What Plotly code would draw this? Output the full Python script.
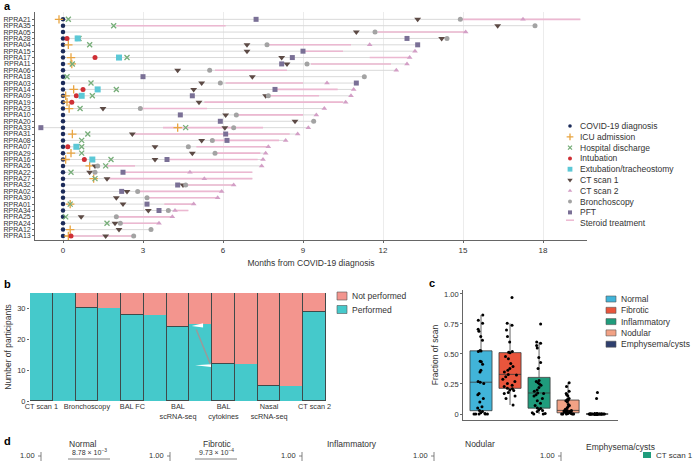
import plotly.graph_objects as go

W, H = 696, 461
FONT = "Liberation Sans, Arial, sans-serif"
INK = "#333333"
AXIS = "#666666"

# ---------------- panel a: patient timelines (months from COVID-19 diagnosis) ----------------
patients = ["RPRA21", "RPRA35", "RPRA05", "RPRA28", "RPRA04", "RPRA15", "RPRA17", "RPRA11",
            "RPRA06", "RPRA18", "RPRA03", "RPRA14", "RPRA09", "RPRA19", "RPRA23", "RPRA10",
            "RPRA20", "RPRA33", "RPRA31", "RPRA08", "RPRA07", "RPRA29", "RPRA16", "RPRA26",
            "RPRA22", "RPRA27", "RPRA32", "RPRA02", "RPRA30", "RPRA01", "RPRA34", "RPRA25",
            "RPRA24", "RPRA12", "RPRA13"]
covid_dx = [0, 0, 0, 0, 0, 0, 0, 0, 0, 0, 0, 0, 0, 0, 0, 0, 0, 0,
            0, 0, 0, 0, 0, 0, 0, 0, 0, 0, 0, 0, 0, 0, 0, 0, 0]
icu = [-0.15, None, None, None, 0.2, None, 0.3, 0.33, None, None, None, 0.4, 0.1, 0.15,
       0.23, None, None, 4.3, 0.35, None, None, 0.3, 0.1, 1.0, None, 1.15, None, None,
       None, 0.27, None, None, None, 0.27, 0.2]
discharge = [0.2, 1.9, None, 0.6, 1.0, None, 2.4, 0.35, None, 0.15, 1.05, 2.0, 1.1, None,
             0.64, None, None, 4.6, 0.93, 0.7, 0.7, 0.7, 1.8, 1.6, 0.3, 1.2, None, None,
             None, 0.27, None, 0.1, 1.65, None, None]
intubation = [None, None, None, 0.15, None, None, 1.2, None, None, None, None, 0.75, 0.5,
              0.33, None, None, None, None, None, None, 0.18, None, 0.8, None, None, None,
              None, None, None, None, None, None, None, None, 0.3]
extubation = [None, None, None, 0.55, None, None, 2.1, None, None, None, None, 1.3, 0.7,
              None, None, None, None, None, None, None, 0.5, None, 1.1, None, None, None,
              None, None, None, None, None, None, None, None, None]
ct_scan1 = [13.3, 16.3, 11.0, 14.2, 6.9, 6.9, 8.2, 8.4, 4.3, 7.1, 5.2, 4.9, 7.6, 5.1, 1.5,
            6.1, 8.7, 6.07, 2.6, 5.2, 3.45, 4.85, 3.45, 1.2, 1.0, 1.65, 4.5, 2.4, 2.0, 2.25,
            3.2, 0.68, 1.95, 2.1, 1.6]
ct_scan2 = [17.25, None, 15.1, None, 11.5, 13.2, 13.0, 12.9, 12.5, None, 9.9, 10.9, 10.8,
            10.6, 9.8, 9.5, None, 9.2, 8.8, 8.35, 7.7, 7.6, 7.5, 7.45, 4.76, 5.3, 6.4, 5.95,
            5.8, 4.9, 4.2, 4.1, 3.6, None, None]
bronchoscopy = [14.9, 17.7, 11.7, 14.4, 7.65, None, None, 9.15, 5.5, 11.3, 5.9, None, 7.7,
                None, 2.9, 6.5, 9.4, 6.4, None, 5.6, 4.7, 5.7, None, 1.3, 1.2, None, 4.6,
                2.8, 3.15, None, 3.95, 2.0, 2.15, 3.3, 2.65]
pft = [7.24, None, None, 12.9, 13.3, 9.0, 8.6, 8.2, None, 3.0, 11.0, 7.95, 4.85, None, None,
       4.4, 5.9, -0.83, 6.1, 6.15, None, None, 3.9, None, 2.25, None, 4.3, 2.2, None, 3.15,
       3.6, None, None, None, None]
steroid_start = [14.9, 2.0, 11.8, None, 7.65, 9.0, 11.5, 9.3, 5.7, None, 6.1, 7.95, 7.7, 5.3,
                 2.9, 6.5, None, 3.75, 2.6, 5.6, 5.0, 5.7, 3.9, 1.6, 2.25, 1.65, 4.6, 2.8,
                 3.15, 3.8, 4.2, 2.0, 2.2, None, 0.3]
steroid_end = [19.4, 6.1, 15.1, None, 10.8, 10.5, 13.0, 12.3, 8.4, None, 9.0, 10.3, 9.6, 10.5,
               5.4, 9.0, None, 7.5, 8.5, 8.1, 7.7, 7.4, 7.3, 2.7, 7.1, 7.1, 6.4, 5.95,
               5.8, 4.9, 4.7, 4.1, 3.6, None, 2.6]

# ---------------- panel b: samples collected ----------------
b_steps = ["CT scan 1", "Bronchoscopy", "BAL FC", "BAL<br>scRNA-seq", "BAL<br>cytokines",
           "Nasal<br>scRNA-seq", "CT scan 2"]
b_performed = [35, 30, 28, 24, 12, 5, 29]
b_flow = [35, 30, 28, 25, 12, 5]
b_total = 35

# ---------------- panel c: CT scan composition ----------------
c_classes = ["Normal", "Fibrotic", "Inflammatory", "Nodular", "Emphysema/cysts"]
c_normal = [0, 0, 0, 0, 0, 0.005, 0.01, 0.02, 0.03, 0.05, 0.06, 0.10, 0.13, 0.16, 0.17, 0.255,
            0.265, 0.27, 0.35, 0.365, 0.415, 0.435, 0.44, 0.52, 0.525, 0.53, 0.615, 0.645,
            0.69, 0.705, 0.755, 0.78, 0.825]
c_fibrotic = [0.075, 0.13, 0.15, 0.17, 0.18, 0.195, 0.20, 0.21, 0.215, 0.23, 0.24, 0.255, 0.27,
              0.29, 0.31, 0.325, 0.33, 0.35, 0.365, 0.38, 0.395, 0.42, 0.46, 0.48, 0.51, 0.515,
              0.52, 0.60, 0.645, 0.70, 0.74, 0.755, 0.97]
c_inflammatory = [0, 0, 0.005, 0.01, 0.02, 0.03, 0.035, 0.045, 0.05, 0.07, 0.09, 0.11, 0.13,
                  0.15, 0.16, 0.17, 0.175, 0.19, 0.20, 0.22, 0.24, 0.25, 0.26, 0.27, 0.28, 0.38,
                  0.43, 0.47, 0.55, 0.57, 0.59, 0.60, 0.75]
c_nodular = [0, 0, 0, 0, 0, 0.005, 0.005, 0.01, 0.01, 0.015, 0.02, 0.02, 0.025, 0.025, 0.03,
             0.03, 0.03, 0.04, 0.05, 0.06, 0.07, 0.08, 0.10, 0.11, 0.115, 0.12, 0.13, 0.15,
             0.16, 0.17, 0.19, 0.23, 0.26]
c_emphysema = [0, 0, 0, 0, 0, 0, 0, 0, 0, 0, 0, 0, 0, 0, 0, 0, 0, 0, 0, 0, 0, 0, 0, 0, 0, 0,
               0, 0, 0, 0, 0, 0.13, 0.18]

# ---------------- panel d (cropped strip) ----------------
d_classes = ["Normal", "Fibrotic", "Inflammatory", "Nodular", "Emphysema/cysts"]
d_pvalues = ["8.78 × 10<sup>−3</sup>", "9.73 × 10<sup>−4</sup>", None, None, None]
d_top_tick = "1.00"


def px(x):
    return x / W


def py(y):
    return 1 - y / H


fig = go.Figure()
n = len(patients)
event_lists = [covid_dx, icu, discharge, intubation, extubation, ct_scan1, ct_scan2,
               bronchoscopy, pft, steroid_start, steroid_end]

# grey timeline per patient (first to last event)
gx, gy = [], []
for i in range(n):
    vals = [lst[i] for lst in event_lists if lst[i] is not None]
    gx += [min(vals), max(vals), None]
    gy += [i, i, None]
fig.add_trace(go.Scatter(x=gx, y=gy, mode="lines", line=dict(color="#d9d9d9", width=1),
                         hoverinfo="skip", xaxis="x", yaxis="y"))

# steroid treatment
sx, sy = [], []
for i in range(n):
    if steroid_start[i] is not None:
        sx += [steroid_start[i], steroid_end[i], None]
        sy += [i, i, None]
STEROID = "#ecb8d1"
fig.add_trace(go.Scatter(x=sx, y=sy, mode="lines", line=dict(color=STEROID, width=1.6),
                         xaxis="x", yaxis="y"))

event_styles = [
    ("COVID-19 diagnosis", covid_dx, dict(symbol="circle", size=4.5, color="#1c2b5a")),
    ("ICU admission", icu, dict(symbol="cross-thin", size=6, color="#e9a541",
                                line=dict(color="#e9a541", width=1.3))),
    ("Hospital discharge", discharge, dict(symbol="x-thin", size=5, color="#76ad78",
                                           line=dict(color="#76ad78", width=1.3))),
    ("Intubation", intubation, dict(symbol="circle", size=5, color="#cf2f35")),
    ("Extubation/tracheostomy", extubation, dict(symbol="square", size=6, color="#5cc8d6")),
    ("CT scan 1", ct_scan1, dict(symbol="triangle-down", size=6, color="#5c4a45")),
    ("CT scan 2", ct_scan2, dict(symbol="triangle-up", size=5, color="#d39fc6")),
    ("Bronchoscopy", bronchoscopy, dict(symbol="circle", size=5, color="#a3a3a3")),
    ("PFT", pft, dict(symbol="square", size=5, color="#7a7096")),
]
for name, vals, mk in event_styles:
    ex = [v for v in vals if v is not None]
    ey = [i for i, v in enumerate(vals) if v is not None]
    fig.add_trace(go.Scatter(x=ex, y=ey, mode="markers", marker=mk, name=name,
                             xaxis="x", yaxis="y"))

# ---------------- panel b ----------------
TEAL = "#45c9cb"
SALMON = "#f3958e"
bar_pos = [2 * i for i in range(len(b_steps))]
gap_pos = [2 * i + 1 for i in range(len(b_flow))]
fig.add_trace(go.Bar(x=gap_pos, y=b_flow, width=1.0, marker=dict(color=TEAL, line=dict(width=0)),
                     xaxis="x2", yaxis="y2"))
fig.add_trace(go.Bar(x=gap_pos, y=[b_total - v for v in b_flow], width=1.0,
                     marker=dict(color=SALMON, line=dict(width=0)), xaxis="x2", yaxis="y2"))
fig.add_trace(go.Bar(x=bar_pos, y=b_performed, width=1.0,
                     marker=dict(color=TEAL, line=dict(color="#3f4a4a", width=1)),
                     xaxis="x2", yaxis="y2"))
fig.add_trace(go.Bar(x=bar_pos, y=[b_total - v for v in b_performed], width=1.0,
                     marker=dict(color=SALMON, line=dict(color="#3f4a4a", width=1)),
                     xaxis="x2", yaxis="y2"))

# crossing flow between BAL scRNA-seq and BAL cytokines
gl = gap_pos[3] - 0.5
hi, lo = b_performed[3], b_performed[4]
shapes = [
    dict(type="path", xref="x2", yref="y2", line=dict(width=0), fillcolor="white",
         path=f"M {gl + 0.1} {hi + 0.3} L {gl + 0.6} {hi + 1.2} L {gl + 0.6} {hi - 0.2} Z"),
    dict(type="path", xref="x2", yref="y2", line=dict(width=0), fillcolor="white",
         path=f"M {gl + 0.25} {lo - 0.4} L {gl + 0.95} {lo - 0.1} L {gl + 0.95} {lo - 1.0} Z"),
    dict(type="line", xref="x2", yref="y2", x0=gl + 0.3, y0=hi - 0.8, x1=gl + 0.92, y1=lo,
         line=dict(color="#9a9a9a", width=1.5)),
]

# ---------------- panel c ----------------
c_values = [c_normal, c_fibrotic, c_inflammatory, c_nodular, c_emphysema]
c_colors = ["#41b4d9", "#e9553c", "#1f9c7c", "#f2a285", "#2e3f6e"]
for name, vals, col in zip(c_classes, c_values, c_colors):
    fig.add_trace(go.Box(x=[name] * len(vals), y=vals, name=name, xaxis="x3", yaxis="y3",
                         fillcolor=col, line=dict(color="#3a3a3a", width=0.8),
                         marker=dict(color="black", size=3), boxpoints="all", jitter=0.75,
                         pointpos=0, width=0.76, whiskerwidth=0))

# ---------------- custom legends (transparent overlay axis in pixel units) ----------------
LEG_A_X, LEG_A_Y, LEG_A_STEP = 570, 126, 10.8
annotations = []
for k, (name, vals, mk) in enumerate(event_styles):
    m = dict(mk)
    m["size"] = mk["size"] * 0.8
    fig.add_trace(go.Scatter(x=[LEG_A_X], y=[LEG_A_Y + k * LEG_A_STEP], mode="markers",
                             marker=m, xaxis="x5", yaxis="y5", hoverinfo="skip"))
legend_a_names = [e[0] for e in event_styles] + ["Steroid treatment"]
for k, name in enumerate(legend_a_names):
    annotations.append(dict(x=px(LEG_A_X + 8), y=py(LEG_A_Y + k * LEG_A_STEP), xref="paper",
                            yref="paper", text=name, showarrow=False, xanchor="left",
                            yanchor="middle", font=dict(size=8.5, color=INK)))
ys = LEG_A_Y + (len(legend_a_names) - 1) * LEG_A_STEP - 3
shapes.append(dict(type="line", xref="paper", yref="paper", x0=px(566), x1=px(574),
                   y0=py(ys), y1=py(ys), line=dict(color=STEROID, width=1.5)))

# legend b
for k, (name, col) in enumerate([("Not performed", SALMON), ("Performed", TEAL)]):
    yc = 296 + k * 13.5
    shapes.append(dict(type="rect", xref="paper", yref="paper", x0=px(337), x1=px(347),
                       y0=py(yc + 4), y1=py(yc - 4), fillcolor=col,
                       line=dict(color="#555555", width=0.6)))
    annotations.append(dict(x=px(350), y=py(yc), xref="paper", yref="paper", text=name,
                            showarrow=False, xanchor="left", yanchor="middle",
                            font=dict(size=8.5, color=INK)))

# legend c
for k, (name, col) in enumerate(zip(c_classes, c_colors)):
    yc = 299 + k * 11.3
    shapes.append(dict(type="rect", xref="paper", yref="paper", x0=px(606), x1=px(616),
                       y0=py(yc + 3), y1=py(yc - 3), fillcolor=col,
                       line=dict(color="#555555", width=0.6)))
    annotations.append(dict(x=px(619), y=py(yc), xref="paper", yref="paper", text=name,
                            showarrow=False, xanchor="left", yanchor="middle",
                            font=dict(size=8.5, color=INK)))

# ---------------- panel d strip ----------------
d_title_x = [83, 217, 352, 480, 620]
d_title_y = [444, 444, 444, 444, 447]
d_axis_x = [41, 170, 302, 434, 561]
d_pval_x = [89, 216]
for k, name in enumerate(d_classes):
    annotations.append(dict(x=px(d_title_x[k]), y=py(d_title_y[k]), xref="paper", yref="paper",
                            text=name, showarrow=False, xanchor="center", yanchor="middle",
                            font=dict(size=8.5, color=INK)))
    annotations.append(dict(x=px(d_axis_x[k] - 4), y=py(455), xref="paper", yref="paper",
                            text=d_top_tick, showarrow=False, xanchor="right", yanchor="middle",
                            font=dict(size=7.5, color=INK)))
    shapes.append(dict(type="line", xref="paper", yref="paper", x0=px(d_axis_x[k] - 3),
                       x1=px(d_axis_x[k]), y0=py(456), y1=py(456),
                       line=dict(color=AXIS, width=0.8)))
    shapes.append(dict(type="line", xref="paper", yref="paper", x0=px(d_axis_x[k]),
                       x1=px(d_axis_x[k]), y0=py(452), y1=py(461),
                       line=dict(color=AXIS, width=0.8)))
    if d_pvalues[k]:
        annotations.append(dict(x=px(d_pval_x[k]), y=py(452), xref="paper", yref="paper",
                                text=d_pvalues[k], showarrow=False, xanchor="center",
                                yanchor="middle", font=dict(size=7, color=INK)))
        shapes.append(dict(type="line", xref="paper", yref="paper", x0=px(d_pval_x[k] - 21),
                           x1=px(d_pval_x[k] + 21), y0=py(459), y1=py(459),
                           line=dict(color=AXIS, width=0.8)))
shapes.append(dict(type="rect", xref="paper", yref="paper", x0=px(643), x1=px(651),
                   y0=py(458), y1=py(452), fillcolor="#1f9c7c", line=dict(width=0)))
annotations.append(dict(x=px(654), y=py(455), xref="paper", yref="paper", text="CT scan 1",
                        showarrow=False, xanchor="left", yanchor="middle",
                        font=dict(size=8, color=INK)))

# panel letters
for letter, lx, ly in [("a", 2, 6), ("b", 2, 284), ("c", 427, 283), ("d", 2, 441)]:
    annotations.append(dict(x=px(lx), y=py(ly), xref="paper", yref="paper", text=f"<b>{letter}</b>",
                            showarrow=False, xanchor="left", yanchor="middle",
                            font=dict(size=11, color="black")))

tick_common = dict(ticks="outside", ticklen=2, tickcolor=AXIS, zeroline=False, automargin=False)
fig.update_layout(
    width=W, height=H, margin=dict(l=0, r=0, t=0, b=0, autoexpand=False),
    plot_bgcolor="rgba(0,0,0,0)", paper_bgcolor="white", showlegend=False,
    font=dict(family=FONT, size=8, color=INK),
    barmode="stack", bargap=0,
    xaxis=dict(domain=[px(35), px(587)], range=[-1.05, 19.65], tickvals=[0, 3, 6, 9, 12, 15, 18],
               showgrid=True, gridcolor="#ececec", gridwidth=0.8, showline=True,
               linecolor=AXIS, linewidth=0.8, tickfont=dict(size=8), anchor="y",
               title=dict(text="Months from COVID-19 diagnosis", font=dict(size=8.5), standoff=6),
               **tick_common),
    yaxis=dict(domain=[py(240), py(12)], range=[34.63, -1.15], tickvals=list(range(n)),
               ticktext=patients, tickfont=dict(size=7), showgrid=False, showline=True,
               linecolor=AXIS, linewidth=0.8, anchor="x", **tick_common),
    xaxis2=dict(domain=[px(30), px(326)], range=[-0.5, 12.5], tickvals=bar_pos, ticktext=b_steps,
                tickfont=dict(size=7.3), showgrid=False, showline=False, ticks="",
                zeroline=False, automargin=False, anchor="y2"),
    yaxis2=dict(domain=[py(401), py(293)], range=[0, 35], tickvals=[0, 10, 20, 30],
                tickfont=dict(size=7.5), showgrid=False, showline=False, anchor="x2",
                title=dict(text="Number of participants", font=dict(size=8.5), standoff=4),
                **tick_common),
    xaxis3=dict(domain=[px(463), px(618)], range=[-0.62, 4.72], type="category",
                showticklabels=False, ticks="", showgrid=False, showline=True,
                linecolor=AXIS, linewidth=0.8, automargin=False, anchor="y3"),
    yaxis3=dict(domain=[py(420), py(290)], range=[-0.05, 1.033],
                tickvals=[0, 0.25, 0.5, 0.75, 1.0], ticktext=["0", "0.25", "0.50", "0.75", "1.00"],
                tickfont=dict(size=7.5), showgrid=False, showline=True, linecolor=AXIS,
                linewidth=0.8, anchor="x3",
                title=dict(text="Fraction of scan", font=dict(size=8.5), standoff=4),
                **tick_common),
    xaxis5=dict(domain=[0, 1], range=[0, W], visible=False, fixedrange=True, automargin=False,
                anchor="y5"),
    yaxis5=dict(domain=[0, 1], range=[H, 0], visible=False, fixedrange=True, automargin=False,
                anchor="x5"),
    shapes=shapes,
    annotations=annotations,
)

# the page body has a default 8px margin; drop it so the figure fills the window
fig.write_html("out.html", config={"displayModeBar": False},
               post_script="document.body.style.margin='0';")
